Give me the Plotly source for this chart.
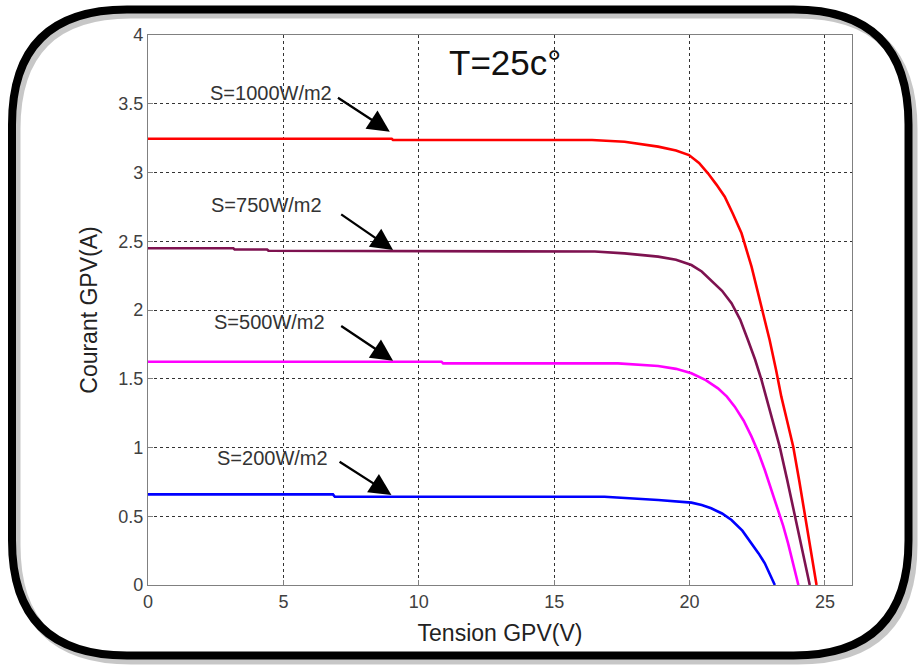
import plotly.graph_objects as go

# ---------------- data ----------------
v_1000 = [0, 9.0, 9.05, 16.4, 17.6, 18.84, 19.5, 19.98, 20.35, 20.68, 21.0, 21.3, 21.6, 21.92, 22.29,
          22.66, 22.96, 23.2, 23.39, 23.62, 23.83, 24.05, 24.26, 24.48, 24.69]
i_1000 = [3.245, 3.245, 3.236, 3.236, 3.224, 3.188, 3.16, 3.127, 3.07, 2.994, 2.91, 2.824, 2.70, 2.558, 2.315,
          2.024, 1.78, 1.56, 1.37, 1.18, 1.006, 0.76, 0.509, 0.25, 0.0]

v_750 = [0, 3.15, 3.2, 4.4, 4.45, 15.0, 16.5, 17.6, 18.84, 19.5, 20.07, 20.45, 20.8, 21.2, 21.55, 21.87,
         22.16, 22.42, 22.66, 23.0, 23.33, 23.6, 23.89, 24.17, 24.44]
i_750 = [2.449, 2.449, 2.44, 2.44, 2.431, 2.43, 2.425, 2.412, 2.388, 2.365, 2.327, 2.28, 2.218, 2.14, 2.049, 1.93,
         1.78, 1.64, 1.49, 1.25, 1.006, 0.77, 0.509, 0.26, 0.0]

v_500 = [0, 10.84, 10.9, 17.36, 18.84, 19.5, 20.07, 20.6, 21.05, 21.38, 21.67, 22.0, 22.29, 22.55, 22.78,
         23.03, 23.27, 23.46, 23.64, 23.83, 24.02]
i_500 = [1.624, 1.624, 1.612, 1.612, 1.593, 1.572, 1.54, 1.49, 1.43, 1.37, 1.297, 1.195, 1.079, 0.96, 0.836,
         0.69, 0.545, 0.43, 0.303, 0.16, 0.0]

v_200 = [0, 6.83, 6.9, 16.86, 18.84, 19.5, 20.07, 20.45, 20.8, 21.2, 21.55, 21.95, 22.29, 22.55, 22.78,
         22.97, 23.15]
i_200 = [0.659, 0.659, 0.642, 0.642, 0.618, 0.61, 0.599, 0.582, 0.558, 0.52, 0.473, 0.395, 0.303, 0.23, 0.158,
         0.08, 0.0]

series_names = ["S=1000W/m2", "S=750W/m2", "S=500W/m2", "S=200W/m2"]
series_colors = ["#ff0000", "#7e1250", "#ff00ff", "#0000ff"]

# label text position and arrow (tail -> tip) in data units
label_x = [4.53, 4.37, 4.49, 4.58]
label_y = [3.576, 2.764, 1.915, 0.926]
arrow_tail_x = [6.96, 7.08, 7.08, 7.02]
arrow_tail_y = [3.551, 2.703, 1.891, 0.904]
arrow_tip_x = [8.93, 9.05, 9.05, 8.99]
arrow_tip_y = [3.297, 2.436, 1.631, 0.655]

x_ticks = [0, 5, 10, 15, 20, 25]
y_ticks = [0, 0.5, 1, 1.5, 2, 2.5, 3, 3.5, 4]
y_tick_text = ["0", "0.5", "1", "1.5", "2", "2.5", "3", "3.5", "4"]

# ---------------- figure ----------------
W, H = 918, 665
ML, MR, MT, MB = 148, 66, 35, 80
PW, PH = W - ML - MR, H - MT - MB

fig = go.Figure()
for vx, iy, name, col in zip([v_1000, v_750, v_500, v_200],
                             [i_1000, i_750, i_500, i_200],
                             series_names, series_colors):
    fig.add_trace(go.Scatter(x=vx, y=iy, mode="lines", name=name,
                             line=dict(color=col, width=2.6)))

font_main = "Liberation Sans, Arial, sans-serif"
annotations = []
for k in range(4):
    annotations.append(dict(x=label_x[k], y=label_y[k], xref="x", yref="y", text=series_names[k],
                            showarrow=False, font=dict(family=font_main, size=20, color="#333333")))
    annotations.append(dict(x=arrow_tip_x[k], y=arrow_tip_y[k], xref="x", yref="y",
                            ax=arrow_tail_x[k], ay=arrow_tail_y[k], axref="x", ayref="y",
                            text="", showarrow=True, arrowhead=2, arrowsize=1.9, arrowwidth=2.3,
                            arrowcolor="#000000"))
annotations.append(dict(x=13.2, y=3.80, xref="x", yref="y", text="T=25c°", showarrow=False,
                        font=dict(family=font_main, size=35, color="#111111")))


def pp(px, py):
    return (px - ML) / PW, (H - MB - py) / PH


def frame_path(l, t, r, b, rad):
    pts = []
    def P(cmd, *xy):
        coords = []
        for j in range(0, len(xy), 2):
            a, c = pp(xy[j], xy[j + 1])
            coords.append(f"{a:.5f},{c:.5f}")
        pts.append(cmd + " ".join(coords))
    P("M", l + rad, t)
    P("L", r - rad, t)
    P("Q", r, t, r, t + rad)
    P("L", r, b - rad)
    P("Q", r, b, r - rad, b)
    P("L", l + rad, b)
    P("Q", l, b, l, b - rad)
    P("L", l, t + rad)
    P("Q", l, t, l + rad, t)
    return " ".join(pts) + " Z"


shapes = [
    dict(type="path", xref="paper", yref="paper", path=frame_path(16, 14, 913, 660, 115),
         line=dict(color="rgba(0,0,0,0.22)", width=9), layer="below"),
    dict(type="path", xref="paper", yref="paper", path=frame_path(12, 9.5, 908.5, 655.5, 115),
         line=dict(color="#000000", width=8), layer="above"),
]

axis_common = dict(showline=True, mirror=True, linecolor="#808080", linewidth=1.2,
                   ticks="inside", ticklen=5, tickcolor="#808080",
                   showgrid=True, gridcolor="#333333", gridwidth=1, griddash="dot",
                   zeroline=False, tickfont=dict(family=font_main, size=18, color="#404040"))

fig.update_layout(
    width=W, height=H,
    margin=dict(l=ML, r=MR, t=MT, b=MB),
    paper_bgcolor="white", plot_bgcolor="white",
    showlegend=False,
    xaxis=dict(range=[0, 26], tickvals=x_ticks, ticktext=[str(v) for v in x_ticks],
               title=dict(text="Tension GPV(V)", font=dict(family=font_main, size=23, color="#222222"),
                          standoff=14),
               **axis_common),
    yaxis=dict(range=[0, 4], tickvals=y_ticks, ticktext=y_tick_text,
               title=dict(text="Courant GPV(A)", font=dict(family=font_main, size=23, color="#222222"),
                          standoff=14),
               **axis_common),
    annotations=annotations,
    shapes=shapes,
)

fig.write_html("out.html")
